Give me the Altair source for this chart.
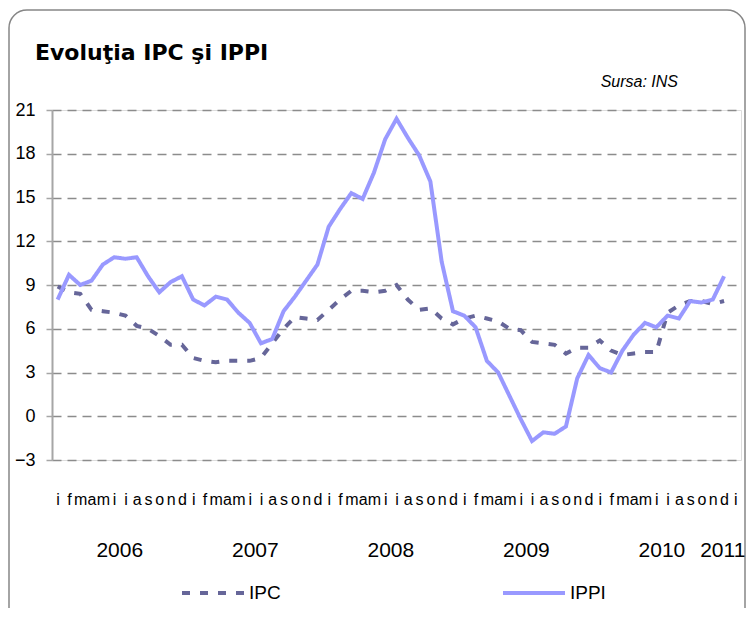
import altair as alt
import pandas as pd

# ---- data ----
months = ["i", "f", "m", "a", "m", "i", "i", "a", "s", "o", "n", "d"]
years = ["2006", "2007", "2008", "2009", "2010", "2011"]
series_names = ["IPC", "IPPI"]

ipc = [8.9, 8.5, 8.4, 7.3, 7.2, 7.1, 6.9, 6.2, 6.0, 5.5, 4.9, 4.9,
       4.0, 3.8, 3.7, 3.8, 3.8, 3.8, 4.0, 5.0, 6.0, 6.8, 6.7, 6.6,
       7.3, 8.0, 8.6, 8.6, 8.5, 8.6, 9.0, 8.0, 7.3, 7.4, 6.7, 6.3,
       6.7, 6.9, 6.7, 6.5, 6.0, 5.9, 5.1, 5.0, 4.9, 4.3, 4.7, 4.7,
       5.2, 4.5, 4.2, 4.3, 4.4, 4.4, 7.1, 7.6, 7.9, 7.9, 7.7, 7.9]

ippi = [8.0, 9.7, 9.0, 9.3, 10.4, 10.9, 10.8, 10.9, 9.6, 8.5, 9.2, 9.6,
        8.0, 7.6, 8.2, 8.0, 7.1, 6.4, 5.0, 5.3, 7.2, 8.2, 9.3, 10.4,
        13.0, 14.2, 15.3, 14.9, 16.7, 19.0, 20.4, 19.1, 17.9, 16.1, 10.6, 7.2,
        6.9, 6.1, 3.8, 3.0, 1.4, -0.2, -1.7, -1.1, -1.2, -0.7, 2.6, 4.2,
        3.3, 3.0, 4.5, 5.6, 6.4, 6.1, 6.9, 6.7, 7.9, 7.8, 8.0, 9.6]

y_ticks = [-3, 0, 3, 6, 9, 12, 15, 18, 21]
n_cats = 61  # Jan 2006 .. Jan 2011
title_text = "Evoluţia IPC şi IPPI"
source_label = "Sursa: INS"

rows = []
for i, v in enumerate(ipc):
    rows.append({"idx": i, "serie": series_names[0], "val": v})
for i, v in enumerate(ippi):
    rows.append({"idx": i, "serie": series_names[1], "val": v})
df = pd.DataFrame(rows)

year_rows = []
for k, yname in enumerate(years):
    start = k * 12
    end = min(start + 11, n_cats - 1)
    year_rows.append({"year": yname, "pos": (start + end) / 2})
year_df = pd.DataFrame(year_rows)

FONT = "'Liberation Sans Narrow', 'Arial Narrow', 'Liberation Sans', Arial, sans-serif"
TITLEF = "Tahoma, 'DejaVu Sans', sans-serif"

month_arr = "[" + ",".join("'" + m + "'" for m in months) + "]"
label_expr = month_arr + "[datum.value % 12]"

xscale = alt.Scale(domain=[-0.5, n_cats - 0.5], nice=False, zero=False)
yscale = alt.Scale(domain=[-3, 21], nice=False, zero=False)

x_axis = alt.Axis(values=list(range(n_cats)), labelExpr=label_expr, title=None,
                  domain=False, ticks=False, grid=False, labelPadding=31,
                  labelFontSize=16, labelFont=FONT, labelColor="black",
                  labelOverlap=False, labelFlush=False, labelBound=False)

legend = alt.Legend(
    orient="none", legendX=128, legendY=450, direction="horizontal", title=None,
    symbolType="stroke", symbolSize=3844, symbolStrokeWidth=4,
    labelFontSize=19, labelFont=FONT, labelColor="black",
    columnPadding=214, labelOffset=3,
)

lines = alt.Chart(df).mark_line(strokeWidth=4).encode(
    x=alt.X("idx:Q", scale=xscale, axis=x_axis),
    y=alt.Y("val:Q", scale=yscale,
            axis=alt.Axis(values=y_ticks, title=None, grid=True, gridDash=[9, 6],
                          gridColor="#8c8c8c", gridWidth=1.5, domainColor="#a6a6a6",
                          domainWidth=2, tickSize=6, tickColor="#a6a6a6", tickWidth=1.5,
                          labelFontSize=18, labelPadding=11, labelFont=FONT,
                          labelColor="black", labelFlush=False, labelOverlap=False)),
    color=alt.Color("serie:N", scale=alt.Scale(domain=series_names, range=["#666699", "#9999ff"]),
                    legend=legend),
    strokeDash=alt.StrokeDash("serie:N", scale=alt.Scale(domain=series_names, range=[[8, 10], [1, 0]]),
                              legend=legend),
)

year_main = alt.Chart(year_df.iloc[:-1]).mark_text(
    fontSize=21, font=FONT, baseline="middle", color="black").encode(
    x=alt.X("pos:Q", scale=xscale, axis=x_axis),
    y=alt.value(441),
    text="year:N",
)

year_last = alt.Chart(year_df.iloc[-1:]).mark_text(
    fontSize=21, font=FONT, baseline="middle", align="right", dx=10, color="black").encode(
    x=alt.X("pos:Q", scale=xscale, axis=x_axis),
    y=alt.value(441),
    text="year:N",
)

title_mark = alt.Chart(pd.DataFrame({"t": [title_text]})).mark_text(
    fontSize=22, font=TITLEF, fontWeight="bold", align="left", baseline="alphabetic",
    color="black").encode(x=alt.value(-17), y=alt.value(-50), text="t:N")

source_text = alt.Chart(pd.DataFrame({"t": [source_label]})).mark_text(
    fontSize=16, font=FONT, fontStyle="italic", align="right", baseline="alphabetic",
    color="black").encode(x=alt.value(626), y=alt.value(-23), text="t:N")

border = alt.Chart(pd.DataFrame({"a": [0]})).mark_rect(
    fillOpacity=0, stroke="#868686", strokeWidth=1.5, cornerRadius=18).encode(
    x=alt.value(-43), x2=alt.value(693), y=alt.value(-100), y2=alt.value(520))

chart = alt.layer(border, lines, year_main, year_last, title_mark, source_text).properties(
    width=689, height=350,
    padding={"left": 44, "top": 102, "right": 5, "bottom": 148},
    autosize=alt.AutoSizeParams(type="none"),
).configure_view(stroke=None).configure_axisX(labelOverlap=False).configure(background="white")

chart.save("out.html", embed_options={"renderer": "svg", "actions": False})
